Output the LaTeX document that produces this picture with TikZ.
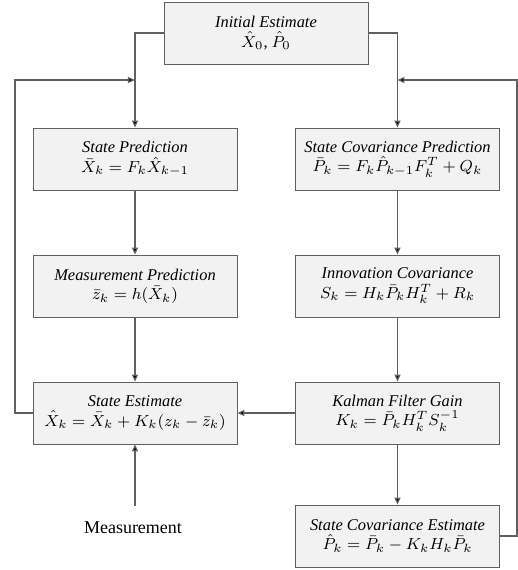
\documentclass[tikz,border=0pt]{standalone}
\usepackage{fontspec}
\setmainfont{Liberation Serif}
\usetikzlibrary{arrows.meta}
\definecolor{linegray}{RGB}{96,96,96}
\definecolor{boxfill}{RGB}{242,242,242}
\tikzset{
  stagebox/.style={draw=linegray, fill=boxfill, minimum width=102pt, minimum height=31pt,
    align=center, inner sep=2pt, font=\fontsize{8.2}{9.6}\selectfont},
  flow/.style={draw=linegray, line width=0.6pt, -{Triangle[length=3.5pt,width=3pt,fill=black]}}
}
\begin{document}
\begin{tikzpicture}[x=0.5pt, y=-0.5pt]
  \useasboundingbox (0,0) rectangle (518,570);
  % Initial estimate
  \node[stagebox] (init) at (266,33) {\textit{Initial Estimate}\\ $\hat{X}_0$, $\hat{P}_0$};
  % Left column: state
  \node[stagebox] (pred) at (135,159) {\textit{State Prediction}\\ $\bar{X}_k = F_k\hat{X}_{k-1}$};
  \node[stagebox] (mpred) at (135,286) {\textit{Measurement Prediction}\\ $\bar{z}_k = h(\bar{X}_k)$};
  \node[stagebox] (est) at (135,413) {\textit{State Estimate}\\ $\hat{X}_k = \bar{X}_k + K_k(z_k - \bar{z}_k)$};
  \node[inner sep=0pt, font=\fontsize{9}{10}\selectfont] (meas) at (133,528) {Measurement};
  % Right column: covariance
  \node[stagebox] (covpred) at (397.5,159) {\textit{State Covariance Prediction}\\ $\bar{P}_k = F_k\hat{P}_{k-1}F_k^T + Q_k$};
  \node[stagebox] (innov) at (397.5,286) {\textit{Innovation Covariance}\\ $S_k = H_k\bar{P}_kH_k^T + R_k$};
  \node[stagebox] (gain) at (397.5,413) {\textit{Kalman Filter Gain}\\ $K_k = \bar{P}_kH_k^TS_k^{-1}$};
  \node[stagebox] (covest) at (397.5,536) {\textit{State Covariance Estimate}\\ $\hat{P}_k = \bar{P}_k - K_kH_k\bar{P}_k$};
  % Loop corners
  \coordinate (lloop) at (15,80);
  \coordinate (rloop) at (517,80);
  % Connectors
  \draw[flow] (init.west) -| (pred.north);
  \draw[flow] (init.east) -| (covpred.north);
  \draw[flow] (pred) -- (mpred);
  \draw[flow] (mpred) -- (est);
  \draw[flow] (covpred) -- (innov);
  \draw[flow] (innov) -- (gain);
  \draw[flow] (gain) -- (covest);
  \draw[flow] (gain) -- (est);
  \draw[flow] ([yshift=8pt]meas.north -| est.south) -- (est.south);
  \draw[flow] (est.west) -| (lloop) -- (pred.north |- lloop);
  \draw[flow] (covest.east) -| (rloop) -- (covpred.north |- rloop);
\end{tikzpicture}
\end{document}
